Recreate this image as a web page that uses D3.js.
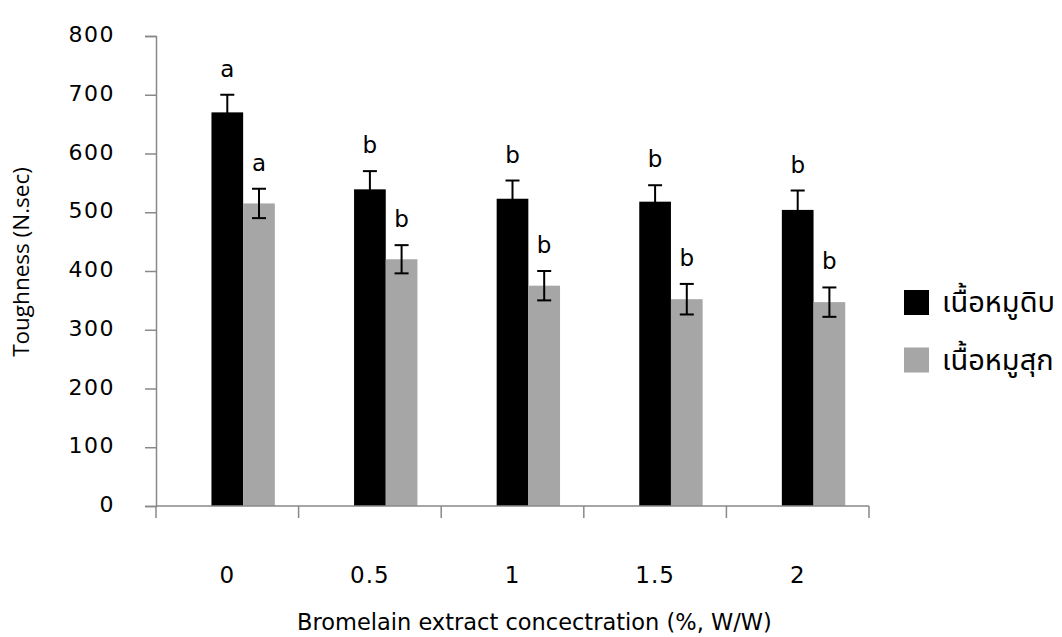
<!DOCTYPE html>
<html>
<head>
<meta charset="utf-8">
<script src="https://cdn.jsdelivr.net/npm/d3@7"></script>
<style>
  body { margin: 0; background: #fff; }
  text { font-family: "DejaVu Sans", sans-serif; fill: #000; }
  .thai { font-family: "Noto Sans Thai", "Noto Sans Thai UI", "Loma", "Garuda", "Norasi", "Tlwg Typo", "Noto Sans", sans-serif; }
</style>
</head>
<body>
<div id="chart"></div>
<script>
// concentration levels on the x axis
const categories = ['0', '0.5', '1', '1.5', '2']
// series names (the first slot of each cluster is an empty series, as in the source)
const seriesNames = ['', 'เนื้อหมูดิบ', 'เนื้อหมูสุก']
const rawValues = [670, 539, 523, 518, 504]
const rawErrors = [30, 31, 31, 28, 33]
const rawLetters = ['a', 'b', 'b', 'b', 'b']
const cookedValues = [515, 420, 375, 352, 347]
const cookedErrors = [25, 24, 25, 26, 25]
const cookedLetters = ['a', 'b', 'b', 'b', 'b']
const yTicks = [0, 100, 200, 300, 400, 500, 600, 700, 800]

const width = 1062
const height = 637
const margin = { top: 36, right: 193, bottom: 131, left: 156 }
const colors = { 'เนื้อหมูดิบ': '#000000', 'เนื้อหมูสุก': '#a6a6a6' }

const rows = categories.map((c, i) => ({
  category: c,
  bars: [
    { key: seriesNames[1], value: rawValues[i], err: rawErrors[i], letter: rawLetters[i] },
    { key: seriesNames[2], value: cookedValues[i], err: cookedErrors[i], letter: cookedLetters[i] }
  ]
}))

const svg = d3.select('#chart').append('svg')
    .attr('width', width)
    .attr('height', height)

const x0 = d3.scaleBand()
    .domain(categories)
    .range([margin.left, width - margin.right])
    .padding(0)

// gap width 150% -> 1.5 slots of padding per cluster
const x1 = d3.scaleBand()
    .domain(seriesNames)
    .range([0, x0.bandwidth()])
    .paddingInner(0)
    .paddingOuter(0.75)

const y = d3.scaleLinear()
    .domain([0, 800])
    .range([height - margin.bottom, margin.top])

const axisColor = '#898989'

// y axis
const yAxis = svg.append('g')
    .attr('transform', `translate(${margin.left},0)`)
    .call(d3.axisLeft(y).tickValues(yTicks).tickSize(11).tickPadding(30))
yAxis.select('.domain').attr('stroke', axisColor).attr('stroke-width', 1.5)
yAxis.selectAll('.tick line').attr('stroke', axisColor).attr('stroke-width', 1.5)
yAxis.selectAll('.tick text')
    .style('font-family', '"DejaVu Sans", sans-serif')
    .style('font-size', '22px')
    .style('letter-spacing', '1.5px')
    .attr('dy', '0.25em')

// bars
const groups = svg.append('g').selectAll('g')
  .data(rows)
  .join('g')
    .attr('transform', (d) => `translate(${x0(d.category)},0)`)

groups.selectAll('rect')
  .data((d) => d.bars)
  .join('rect')
    .attr('x', (d) => x1(d.key))
    .attr('width', x1.bandwidth())
    .attr('y', (d) => y(d.value))
    .attr('height', (d) => y(0) - y(d.value))
    .attr('fill', (d) => colors[d.key])

// error bars
const err = groups.selectAll('g.err')
  .data((d) => d.bars)
  .join('g')
    .attr('class', 'err')
    .attr('stroke', '#000')
    .attr('stroke-width', 2)
err.append('line')
    .attr('x1', (d) => x1(d.key) + x1.bandwidth() / 2)
    .attr('x2', (d) => x1(d.key) + x1.bandwidth() / 2)
    .attr('y1', (d) => y(d.value - d.err))
    .attr('y2', (d) => y(d.value + d.err))
err.append('line')
    .attr('x1', (d) => x1(d.key) + x1.bandwidth() / 2 - 7)
    .attr('x2', (d) => x1(d.key) + x1.bandwidth() / 2 + 7)
    .attr('y1', (d) => y(d.value + d.err))
    .attr('y2', (d) => y(d.value + d.err))
err.append('line')
    .attr('x1', (d) => x1(d.key) + x1.bandwidth() / 2 - 7)
    .attr('x2', (d) => x1(d.key) + x1.bandwidth() / 2 + 7)
    .attr('y1', (d) => y(d.value - d.err))
    .attr('y2', (d) => y(d.value - d.err))

// significance letters
groups.selectAll('text.letter')
  .data((d) => d.bars)
  .join('text')
    .attr('class', 'letter')
    .attr('x', (d) => x1(d.key) + x1.bandwidth() / 2)
    .attr('y', (d) => y(d.value + d.err) - 18)
    .attr('text-anchor', 'middle')
    .style('font-size', '23px')
    .text((d) => d.letter)

// x axis: line with ticks between categories
const xBase = y(0)
const xAxis = svg.append('g')
xAxis.append('line')
    .attr('x1', margin.left).attr('x2', width - margin.right)
    .attr('y1', xBase).attr('y2', xBase)
    .attr('stroke', axisColor).attr('stroke-width', 1.5)
const bounds = categories.map((c) => x0(c)).concat([width - margin.right])
xAxis.selectAll('line.tick')
  .data(bounds)
  .join('line')
    .attr('class', 'tick')
    .attr('x1', (d) => d).attr('x2', (d) => d)
    .attr('y1', xBase).attr('y2', xBase + 12)
    .attr('stroke', axisColor).attr('stroke-width', 1.5)
xAxis.selectAll('text')
  .data(categories)
  .join('text')
    .attr('x', (d) => x0(d) + x0.bandwidth() / 2)
    .attr('y', 583)
    .attr('text-anchor', 'middle')
    .style('font-size', '23px')
    .style('letter-spacing', '1px')
    .text((d) => d)

// axis titles
svg.append('text')
    .attr('x', 297)
    .attr('y', 630)
    .attr('text-anchor', 'start')
    .style('font-size', '22.5px')
    .text('Bromelain extract concectration (%, W/W)')

svg.append('text')
    .attr('transform', 'translate(29,262) rotate(-90)')
    .attr('text-anchor', 'middle')
    .style('font-family', '"Open Sans", sans-serif')
    .style('font-size', '22.5px')
    .text('Toughness (N.sec)')

// legend
const legend = svg.append('g').selectAll('g')
  .data(seriesNames.slice(1))
  .join('g')
    .attr('transform', (d, i) => `translate(904,${290 + i * 57.5})`)
legend.append('rect')
    .attr('width', 25)
    .attr('height', 25)
    .attr('fill', (d) => colors[d])
legend.append('text')
    .attr('class', 'thai')
    .attr('x', 38)
    .attr('y', 22)
    .style('font-size', '29px')
    .text((d) => d)
</script>
</body>
</html>
